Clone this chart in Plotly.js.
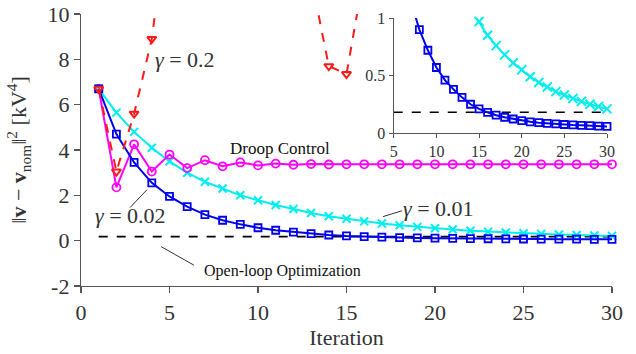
<!DOCTYPE html>
<html>
<head>
<meta charset="utf-8">
<script src="https://cdn.plot.ly/plotly-3.0.1.min.js"></script>
<style>html,body{margin:0;padding:0;background:#fff;}#chart{width:636px;height:354px;}</style>
</head>
<body>
<div id="chart"></div>
<script>
// ---- data ----
const iterations = [1,2,3,4,5,6,7,8,9,10,11,12,13,14,15,16,17,18,19,20,21,22,23,24,25,26,27,28,29,30];
const gamma002 = [6.7,4.7,3.45,2.55,1.95,1.5,1.15,0.9,0.72,0.57,0.46,0.38,0.31,0.25,0.21,0.18,0.155,0.137,0.122,0.108,0.097,0.09,0.084,0.079,0.074,0.07,0.067,0.064,0.06,0.057];
const gamma001 = [6.7,5.65,4.8,4.1,3.5,3.0,2.6,2.3,2.0,1.78,1.57,1.4,1.22,1.08,0.97,0.85,0.76,0.68,0.61,0.55,0.49,0.44,0.4,0.36,0.33,0.3,0.275,0.25,0.23,0.21];
const droop = [6.7,2.35,4.25,3.05,3.8,3.2,3.55,3.28,3.45,3.32,3.4,3.35,3.38,3.36,3.37,3.37,3.37,3.37,3.37,3.37,3.37,3.37,3.37,3.37,3.37,3.37,3.37,3.37,3.37,3.37];
const iterations02 = [1,2,3,4,5,6,7,8,9,10,11,12,13,14,15,16,17];
const gamma02 = [6.7,3.05,5.6,8.9,15.0,18.0,16.5,15.0,14.0,13.0,12.5,12.0,11.6,7.7,7.35,11.8,14.0];
const openLoop = 0.18;
const openLoopX = [1,30];
const insetX = [5,30];
const mainXTicks = [0,5,10,15,20,25,30];
const mainYTicks = [-2,0,2,4,6,8,10];
const mainYTickText = ['-2','0','2','4','6','8','10'];
const insetXTicks = [5,10,15,20,25,30];
const insetYTicks = [0,0.5,1];

const serif = 'Liberation Serif, Times New Roman, serif';
const blue = '#0000ee', cyan = '#00eeee', magenta = '#ff00ff', red = '#ff1a1a';

function inRange(xs, ys, lo, hi){
  const ox=[], oy=[];
  xs.forEach((x,i)=>{ if(ys[i]>=lo && ys[i]<=hi){ ox.push(x); oy.push(ys[i]); } });
  return {x:ox, y:oy};
}

const traces = [];
// main plot
traces.push({x:openLoopX, y:openLoopX.map(()=>openLoop), mode:'lines', line:{color:'#000',width:1.6,dash:'dash'}, xaxis:'x', yaxis:'y', hoverinfo:'skip'});
traces.push({x:iterations, y:gamma001, mode:'lines+markers', line:{color:cyan,width:2}, marker:{symbol:'x-thin-open',size:8,color:cyan,line:{color:cyan,width:2}}, cliponaxis:false, xaxis:'x', yaxis:'y'});
traces.push({x:iterations, y:droop, mode:'lines+markers', line:{color:magenta,width:2}, marker:{symbol:'circle-open',size:8,color:magenta,line:{color:magenta,width:1.8}}, cliponaxis:false, xaxis:'x', yaxis:'y'});
traces.push({x:iterations, y:gamma002, mode:'lines+markers', line:{color:blue,width:2}, marker:{symbol:'square-open',size:7,color:blue,line:{color:blue,width:1.8}}, cliponaxis:false, xaxis:'x', yaxis:'y'});
traces.push({x:iterations02, y:gamma02, mode:'lines+markers', line:{color:red,width:2,dash:'dash'}, marker:{symbol:'triangle-down-open',size:8,color:red,line:{color:red,width:2}}, xaxis:'x', yaxis:'y'});

// inset
traces.push({x:insetX, y:insetX.map(()=>openLoop), mode:'lines', line:{color:'#000',width:1.6,dash:'dash'}, xaxis:'x2', yaxis:'y2'});
traces.push({x:iterations, y:gamma001, mode:'lines', line:{color:cyan,width:2}, xaxis:'x2', yaxis:'y2'});
const c2 = inRange(iterations, gamma001, 0, 1);
traces.push({x:c2.x, y:c2.y, mode:'markers', marker:{symbol:'x-thin-open',size:9,color:cyan,line:{color:cyan,width:2}}, cliponaxis:false, xaxis:'x2', yaxis:'y2'});
traces.push({x:iterations, y:gamma002, mode:'lines', line:{color:blue,width:2}, xaxis:'x2', yaxis:'y2'});
const b2 = inRange(iterations, gamma002, 0, 1);
traces.push({x:b2.x, y:b2.y, mode:'markers', marker:{symbol:'square-open',size:7,color:blue,line:{color:blue,width:1.8}}, cliponaxis:false, xaxis:'x2', yaxis:'y2'});

const axCol = '#555';
const layout = {
  width:636, height:354,
  margin:{l:81, r:24, t:14, b:68},
  paper_bgcolor:'#fff', plot_bgcolor:'rgba(0,0,0,0)',
  showlegend:false,
  font:{family:serif, color:'#333'},
  xaxis:{domain:[0,1], range:[0,30], tickvals:mainXTicks, showgrid:false, zeroline:false,
    showline:true, linecolor:axCol, linewidth:1.2, ticks:'outside', ticklen:6, tickcolor:axCol, tickwidth:1.2,
    tickfont:{family:serif,size:22,color:'#333'},
    title:{text:'Iteration', font:{family:serif,size:22,color:'#333'}, standoff:6}},
  yaxis:{domain:[0,1], range:[-2,10], tickvals:mainYTicks, ticktext:mainYTickText, showgrid:false, zeroline:false,
    showline:true, linecolor:axCol, linewidth:1.2, ticks:'outside', ticklen:6, tickcolor:axCol, tickwidth:1.2,
    tickfont:{family:serif,size:22,color:'#333'},
    title:{text:'‖<b>v</b> − <b>v</b><sub>nom</sub>‖<sup>2</sup> [kV<sup>4</sup>]', font:{family:serif,size:22,color:'#333'}, standoff:14}},
  xaxis2:{domain:[0.589,0.9906], anchor:'y2', range:[5,30], tickvals:insetXTicks, showgrid:false, zeroline:false,
    showline:true, linecolor:axCol, linewidth:1.2, ticks:'outside', ticklen:4, tickcolor:axCol,
    tickfont:{family:serif,size:16,color:'#333'}},
  yaxis2:{domain:[0.5625,0.985], anchor:'x2', range:[0,1], tickvals:insetYTicks, showgrid:false, zeroline:false,
    showline:true, linecolor:axCol, linewidth:1.2, ticks:'outside', ticklen:4, tickcolor:axCol,
    tickfont:{family:serif,size:16,color:'#333'}},
  annotations:[
    {x:5.88, y:7.98, xref:'x', yref:'y', text:'<i>γ</i> = 0.2', showarrow:false, font:{family:serif,size:22,color:'#333'}},
    {x:11.24, y:4.06, xref:'x', yref:'y', text:'Droop Control', showarrow:false, font:{family:serif,size:17,color:'#111'}},
    {x:2.77, y:1.12, xref:'x', yref:'y', text:'<i>γ</i> = 0.02', showarrow:false, font:{family:serif,size:22,color:'#333'}},
    {x:20.2, y:1.41, xref:'x', yref:'y', text:'<i>γ</i> = 0.01', showarrow:false, font:{family:serif,size:22,color:'#333'}},
    {x:11.4, y:-1.32, xref:'x', yref:'y', text:'Open-loop Optimization', showarrow:false, font:{family:serif,size:16,color:'#111'}}
  ],
  shapes:[
    {type:'line', xref:'x', yref:'y', x0:2.77, y0:1.46, x1:3.73, y1:2.25, line:{color:'#333',width:1}},
    {type:'line', xref:'x', yref:'y', x0:17.06, y0:1.06, x1:18.14, y1:1.32, line:{color:'#333',width:1}},
    {type:'line', xref:'x', yref:'y', x0:4.52, y0:-0.26, x1:6.38, y1:-1.08, line:{color:'#333',width:1}}
  ]
};
Plotly.newPlot('chart', traces, layout, {displayModeBar:false, staticPlot:true});
</script>
</body>
</html>
